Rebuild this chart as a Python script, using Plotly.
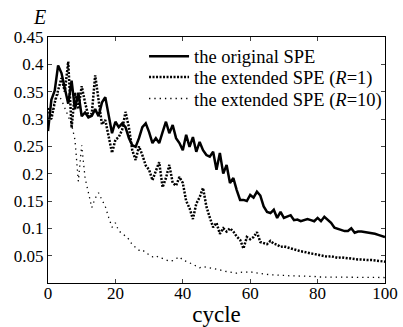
import plotly.graph_objects as go

orig_spe = [
    0.278, 0.335, 0.352, 0.398, 0.384, 0.355, 0.328, 0.370, 0.318, 0.348,
    0.305, 0.312, 0.303, 0.306, 0.318, 0.305, 0.330, 0.340, 0.304, 0.274,
    0.295, 0.285, 0.292, 0.285, 0.265, 0.252, 0.249, 0.265, 0.285, 0.292,
    0.276, 0.256, 0.265, 0.256, 0.276, 0.295, 0.274, 0.289, 0.265, 0.256,
    0.243, 0.271, 0.249, 0.267, 0.240, 0.258, 0.243, 0.234, 0.231, 0.240,
    0.207, 0.238, 0.200, 0.216, 0.183, 0.192, 0.170, 0.152, 0.152, 0.150,
    0.161, 0.156, 0.167, 0.160, 0.140, 0.130, 0.128, 0.134, 0.119, 0.130,
    0.119, 0.121, 0.124, 0.115, 0.116, 0.113, 0.115, 0.117, 0.115, 0.113,
    0.119, 0.113, 0.121, 0.115, 0.110, 0.101, 0.099, 0.097, 0.095, 0.095,
    0.100, 0.092, 0.094, 0.094, 0.093, 0.093, 0.091, 0.090, 0.088, 0.086,
    0.084,
]

ext_r1 = [
    0.320, 0.300, 0.330, 0.355, 0.375, 0.350, 0.405, 0.284, 0.348, 0.318,
    0.360, 0.330, 0.305, 0.310, 0.380, 0.335, 0.290, 0.298, 0.270, 0.238,
    0.262, 0.267, 0.280, 0.313, 0.285, 0.243, 0.225, 0.250, 0.234, 0.215,
    0.207, 0.188, 0.205, 0.221, 0.175, 0.192, 0.216, 0.183, 0.178, 0.194,
    0.183, 0.150, 0.137, 0.117, 0.145, 0.157, 0.174, 0.140, 0.120, 0.102,
    0.110, 0.090, 0.100, 0.094, 0.100, 0.094, 0.085, 0.079, 0.063, 0.084,
    0.080, 0.084, 0.093, 0.075, 0.073, 0.071, 0.077, 0.072, 0.070, 0.066,
    0.067, 0.065, 0.063, 0.062, 0.060, 0.058, 0.057, 0.055, 0.054, 0.053,
    0.052, 0.051, 0.050, 0.048, 0.049, 0.047, 0.046, 0.047, 0.046, 0.045,
    0.044, 0.044, 0.043, 0.043, 0.042, 0.042, 0.042, 0.041, 0.041, 0.040,
    0.039,
]

ext_r10 = [
    0.300, 0.305, 0.335, 0.345, 0.335, 0.320, 0.305, 0.290, 0.262, 0.186,
    0.252, 0.192, 0.165, 0.138, 0.155, 0.165, 0.152, 0.140, 0.120, 0.102,
    0.110, 0.095, 0.091, 0.085, 0.080, 0.070, 0.065, 0.060, 0.061, 0.055,
    0.052, 0.048, 0.050, 0.046, 0.045, 0.042, 0.040, 0.041, 0.044, 0.048,
    0.042, 0.040, 0.037, 0.034, 0.031, 0.028, 0.030, 0.029, 0.027, 0.026,
    0.025, 0.024, 0.022, 0.021, 0.020, 0.019, 0.018, 0.020, 0.019, 0.020,
    0.021, 0.019, 0.018, 0.017, 0.016, 0.015, 0.015, 0.015, 0.014, 0.014,
    0.014, 0.013, 0.013, 0.013, 0.013, 0.013, 0.012, 0.012, 0.012, 0.012,
    0.011, 0.011, 0.011, 0.011, 0.011, 0.011, 0.010, 0.010, 0.010, 0.010,
    0.010, 0.010, 0.010, 0.010, 0.010, 0.010, 0.010, 0.010, 0.010, 0.010,
    0.010,
]

x_ticks = [0, 20, 40, 60, 80, 100]
y_ticks = [0.05, 0.1, 0.15, 0.2, 0.25, 0.3, 0.35, 0.4, 0.45]
y_tick_text = ["0.05", "0.1", "0.15", "0.2", "0.25", "0.3", "0.35", "0.4", "0.45"]

names = ["the original SPE",
         "the extended SPE (<i>R</i>=1)",
         "the extended SPE (<i>R</i>=10)"]

SERIF = "Liberation Serif, Times New Roman, serif"

fig = go.Figure()
fig.add_trace(go.Scatter(x=list(range(len(orig_spe))), y=orig_spe, mode="lines",
                         name=names[0], line=dict(color="black", width=2.5),
                         showlegend=True, legend="legend"))
fig.add_trace(go.Scatter(x=list(range(len(ext_r1))), y=ext_r1, mode="lines",
                         name=names[1],
                         line=dict(color="black", width=2.5, dash="2px,1.5px"),
                         showlegend=True, legend="legend2"))
fig.add_trace(go.Scatter(x=list(range(len(ext_r10))), y=ext_r10, mode="lines",
                         name=names[2],
                         line=dict(color="black", width=1.3, dash="1.3px,4px"),
                         showlegend=True, legend="legend3"))

leg_common = dict(x=0.285, xanchor="left", yanchor="middle",
                  bgcolor="rgba(0,0,0,0)", borderwidth=0,
                  font=dict(family=SERIF, size=18.5, color="black"),
                  itemwidth=40, visible=True)

fig.update_layout(
    width=403, height=327, autosize=False,
    showlegend=True,
    margin=dict(l=48, r=18, t=37, b=44, autoexpand=False),
    paper_bgcolor="white", plot_bgcolor="white",
    font=dict(family=SERIF, size=17, color="black"),
    legend=dict(y=0.92, **leg_common),
    legend2=dict(y=0.835, **leg_common),
    legend3=dict(y=0.748, **leg_common),
    xaxis=dict(range=[0, 100], tickvals=x_ticks, ticks="inside", ticklen=4,
               showline=True, linecolor="black", linewidth=1.2, mirror="ticks",
               showgrid=False, zeroline=False, automargin=False,
               ticklabelstandoff=-6,
               tickfont=dict(family=SERIF, size=17, color="black"),
               title=dict(text="cycle", font=dict(family=SERIF, size=23, color="black"))),
    yaxis=dict(range=[0, 0.45], tickvals=y_ticks, ticktext=y_tick_text,
               ticks="inside", ticklen=4, automargin=False,
               showline=True, linecolor="black", linewidth=1.2, mirror="ticks",
               showgrid=False, zeroline=False,
               tickfont=dict(family=SERIF, size=17, color="black")),
    annotations=[dict(text="<i>E</i>", xref="paper", yref="paper", x=-0.025, y=1.0,
                      yshift=20, xanchor="center", yanchor="middle", showarrow=False,
                      font=dict(family=SERIF, size=20, color="black"))],
)

fig.write_html("out.html", config={"displayModeBar": False},
               post_script="document.body.style.margin='0px';document.body.style.padding='0px';")
